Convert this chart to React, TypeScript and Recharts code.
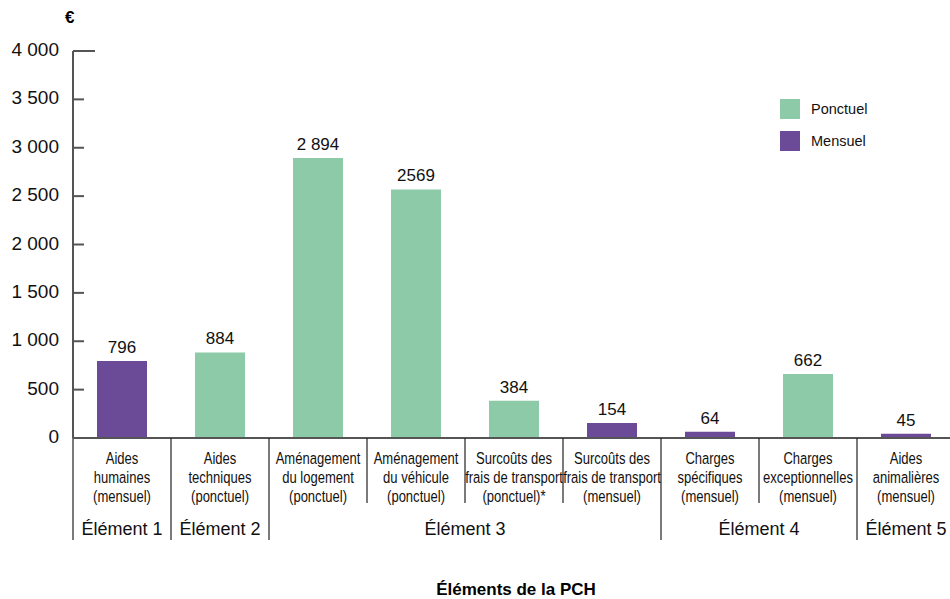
import { BarChart, Bar, XAxis, YAxis, Legend, LabelList } from 'recharts';

// categories, one entry per bar, split in the lines shown under the axis
const categoryLines = [
  ['Aides', 'humaines', '(mensuel)'],
  ['Aides', 'techniques', '(ponctuel)'],
  ['Aménagement', 'du logement', '(ponctuel)'],
  ['Aménagement', 'du véhicule', '(ponctuel)'],
  ['Surcoûts des', 'frais de transport', '(ponctuel)*'],
  ['Surcoûts des', 'frais de transport', '(mensuel)'],
  ['Charges', 'spécifiques', '(mensuel)'],
  ['Charges', 'exceptionnelles', '(mensuel)'],
  ['Aides', 'animalières', '(mensuel)'],
];
const elementOf = [1, 2, 3, 3, 3, 3, 4, 4, 5];

const ponctuel = [null, 884, 2894, 2569, 384, null, null, 662, null];
const mensuel = [796, null, null, null, null, 154, 64, null, 45];
const valueLabels = ['796', '884', '2 894', '2569', '384', '154', '64', '662', '45'];

const yTicks = [0, 500, 1000, 1500, 2000, 2500, 3000, 3500, 4000];
const legendOrder = ['Ponctuel', 'Mensuel'];

const GREEN = '#8ccaa8';
const PURPLE = '#6b4a98';
const AXIS = '#555555';
const PLOT_LEFT = 73;
const PLOT_BOTTOM = 438;

const SANS = '"Liberation Sans", Arial, sans-serif';

const data = categoryLines.map((lines, i) => ({
  name: lines.join(' '),
  Ponctuel: ponctuel[i],
  Mensuel: mensuel[i],
  ponctuelLabel: ponctuel[i] != null ? valueLabels[i] : null,
  mensuelLabel: mensuel[i] != null ? valueLabels[i] : null,
}));

const fmt = (v: number) => String(v).replace(/\B(?=(\d{3})+(?!\d))/g, ' ');

function YTick(props: any) {
  const { y, payload } = props;
  const len = payload.value === yTicks[yTicks.length - 1] ? 22 : 11;
  return (
    <g>
      <line x1={PLOT_LEFT} x2={PLOT_LEFT + len} y1={y} y2={y} stroke={AXIS} strokeWidth={2} />
      <text x={PLOT_LEFT - 14} y={y + 5} textAnchor="end" fontFamily={SANS} fontSize={19} fill="#111">
        {fmt(payload.value)}
      </text>
    </g>
  );
}

function XTick(props: any) {
  const { x, payload, index } = props;
  const half = payload.offset || 49;
  const left = x - half;
  const major = index === 0 || elementOf[index] !== elementOf[index - 1];
  let span = 0;
  if (major) {
    while (elementOf[index + span] === elementOf[index]) span++;
  }
  return (
    <g>
      <line x1={left} x2={left} y1={PLOT_BOTTOM} y2={major ? PLOT_BOTTOM + 102 : PLOT_BOTTOM + 65} stroke="#222" strokeWidth={1.2} />
      {categoryLines[index].map((t, k) => (
        <text
          key={k}
          transform={`translate(${x},${PLOT_BOTTOM + 26 + k * 19}) scale(0.79,1)`}
          textAnchor="middle"
          fontFamily={SANS}
          fontSize={16.5}
          fill="#111"
        >
          {t}
        </text>
      ))}
      {major && (
        <text x={left + span * half} y={PLOT_BOTTOM + 97} textAnchor="middle" fontFamily={SANS} fontSize={18} fill="#111">
          {'Élément ' + elementOf[index]}
        </text>
      )}
    </g>
  );
}

function ValueLabel(p: any) {
  if (p.value == null) return null;
  return (
    <text x={p.x + p.width / 2} y={p.y - 8} textAnchor="middle" fontFamily={SANS} fontSize={17} fill="#111">
      {p.value}
    </text>
  );
}

function LegendContent(props: any) {
  const items = [...(props.payload || [])].sort(
    (a: any, b: any) => legendOrder.indexOf(a.value) - legendOrder.indexOf(b.value)
  );
  return (
    <div>
      {items.map((it: any) => (
        <div key={it.value} style={{ display: 'flex', alignItems: 'center', height: 20, marginBottom: 12 }}>
          <span style={{ width: 20, height: 20, background: it.color, display: 'inline-block' }} />
          <span style={{ marginLeft: 11, fontFamily: SANS, fontSize: 14.5, color: '#111' }}>{it.value}</span>
        </div>
      ))}
    </div>
  );
}

export default function App() {
  return (
    <div style={{ position: 'absolute', left: 0, top: 0, width: 950, height: 599, overflow: 'hidden', background: '#fff' }}>
      <div style={{ position: 'absolute', left: 65, top: 8, fontFamily: SANS, fontWeight: 'bold', fontSize: 17, lineHeight: '20px' }}>€</div>
      <BarChart
        width={960}
        height={599}
        data={data}
        margin={{ top: 51, right: 5, left: 0, bottom: 0 }}
        barSize={50}
      >
        <XAxis
          dataKey="name"
          interval={0}
          height={161}
          tickSize={0}
          tickMargin={0}
          tickLine={false}
          axisLine={{ stroke: AXIS, strokeWidth: 2 }}
          tick={<XTick />}
        />
        <YAxis
          width={PLOT_LEFT}
          domain={[0, 4000]}
          ticks={yTicks}
          interval={0}
          tickLine={false}
          axisLine={{ stroke: AXIS, strokeWidth: 2 }}
          tick={<YTick />}
        />
        <Legend
          layout="vertical"
          align="center"
          verticalAlign="middle"
          wrapperStyle={{ left: 780, top: 99, width: 'auto' }}
          content={<LegendContent />}
        />
        <Bar dataKey="Ponctuel" name="Ponctuel" stackId="a" fill={GREEN} isAnimationActive={false}>
          <LabelList dataKey="ponctuelLabel" content={<ValueLabel />} />
        </Bar>
        <Bar dataKey="Mensuel" name="Mensuel" stackId="a" fill={PURPLE} isAnimationActive={false}>
          <LabelList dataKey="mensuelLabel" content={<ValueLabel />} />
        </Bar>
      </BarChart>
      <div
        style={{
          position: 'absolute',
          left: 516,
          top: 580,
          transform: 'translateX(-50%)',
          whiteSpace: 'nowrap',
          fontFamily: SANS,
          fontWeight: 'bold',
          fontSize: 17,
          lineHeight: '20px',
        }}
      >
        Éléments de la PCH
      </div>
    </div>
  );
}
